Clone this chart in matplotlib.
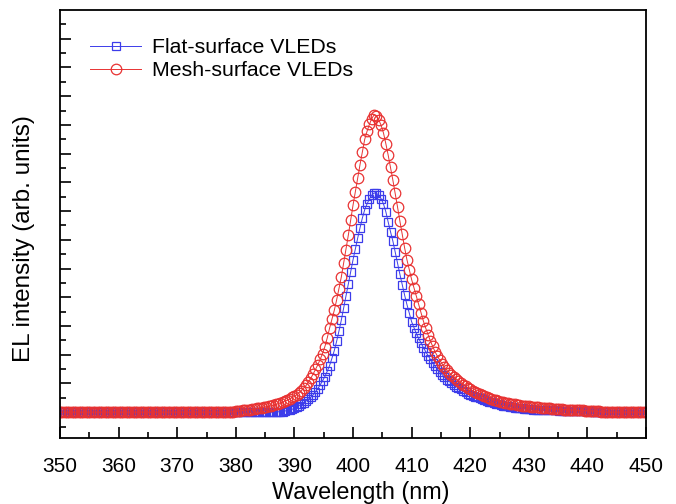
import numpy as np
import matplotlib
matplotlib.use('Agg')
from matplotlib import pyplot as plt

plt.rcParams['font.family'] = ['Liberation Sans', 'DejaVu Sans']

# wavelength grid of the spectrometer, 0.4 nm steps
wavelength = np.linspace(350, 450, 251)

# EL intensity (arb. units)
flat_el = [
    # 350.0 - 378.0 nm
    0.00, 0.00, 0.00, 0.00, 0.00, 0.00, 0.00, 0.00, 0.00, 0.00,
    0.00, 0.00, 0.00, 0.00, 0.00, 0.00, 0.00, 0.00, 0.00, 0.00,
    0.00, 0.00, 0.00, 0.00, 0.00, 0.00, 0.00, 0.00, 0.00, 0.00,
    0.00, 0.00, 0.00, 0.00, 0.00, 0.00, 0.00, 0.00, 0.00, 0.00,
    0.00, 0.00, 0.00, 0.00, 0.00, 0.00, 0.00, 0.00, 0.00, 0.00,
    0.00, 0.00, 0.00, 0.00, 0.00, 0.00, 0.00, 0.00, 0.00, 0.00,
    0.00, 0.00, 0.00, 0.00, 0.00, 0.00, 0.00, 0.00, 0.00, 0.00, 0.00,
    # 378.4 - 442.0 nm
    0.00, 0.00, 0.00, 0.00, 0.00, 0.00, 0.00, 0.00, 0.00, 0.00,
    0.00, 0.00, 0.00, 0.00, 0.00, 0.00, 0.00, 0.00, 0.00, 0.00,
    0.00, 0.01, 0.01, 0.02, 0.02, 0.04, 0.06, 0.08, 0.10, 0.13,
    0.18, 0.23, 0.28, 0.33, 0.39, 0.45, 0.52, 0.60, 0.71, 0.82,
    0.95, 1.09, 1.24, 1.42, 1.62, 1.87, 2.14, 2.46, 2.82, 3.20,
    3.62, 4.04, 4.46, 4.88, 5.30, 5.68, 6.06, 6.42, 6.76, 7.05,
    7.25, 7.42, 7.55, 7.63, 7.62, 7.55, 7.43, 7.25, 6.98, 6.62,
    6.28, 5.96, 5.57, 5.19, 4.80, 4.44, 4.08, 3.75, 3.45, 3.15,
    2.94, 2.74, 2.57, 2.41, 2.25, 2.11, 1.97, 1.84, 1.72, 1.60,
    1.50, 1.40, 1.31, 1.22, 1.13, 1.07, 1.00, 0.94, 0.89, 0.84,
    0.79, 0.74, 0.69, 0.64, 0.60, 0.57, 0.54, 0.51, 0.48, 0.45,
    0.42, 0.39, 0.37, 0.34, 0.32, 0.30, 0.27, 0.25, 0.23, 0.21,
    0.20, 0.19, 0.17, 0.16, 0.15, 0.14, 0.13, 0.12, 0.11, 0.10,
    0.10, 0.09, 0.09, 0.08, 0.08, 0.08, 0.07, 0.07, 0.06, 0.06,
    0.06, 0.06, 0.05, 0.05, 0.05, 0.05, 0.04, 0.04, 0.04, 0.04,
    0.04, 0.03, 0.03, 0.03, 0.03, 0.03, 0.02, 0.02, 0.02, 0.02,
    # 442.4 - 450.0 nm
    0.00, 0.00, 0.00, 0.00, 0.00, 0.00, 0.00, 0.00, 0.00, 0.00,
    0.00, 0.00, 0.00, 0.00, 0.00, 0.00, 0.00, 0.00, 0.00, 0.00,
]

mesh_el = [
    # 350.0 - 378.0 nm
    0.00, 0.00, 0.00, 0.00, 0.00, 0.00, 0.00, 0.00, 0.00, 0.00,
    0.00, 0.00, 0.00, 0.00, 0.00, 0.00, 0.00, 0.00, 0.00, 0.00,
    0.00, 0.00, 0.00, 0.00, 0.00, 0.00, 0.00, 0.00, 0.00, 0.00,
    0.00, 0.00, 0.00, 0.00, 0.00, 0.00, 0.00, 0.00, 0.00, 0.00,
    0.00, 0.00, 0.00, 0.00, 0.00, 0.00, 0.00, 0.00, 0.00, 0.00,
    0.00, 0.00, 0.00, 0.00, 0.00, 0.00, 0.00, 0.00, 0.00, 0.00,
    0.00, 0.00, 0.00, 0.00, 0.00, 0.00, 0.00, 0.00, 0.00, 0.00, 0.00,
    # 378.4 - 442.0 nm
    0.00, 0.01, 0.01, 0.02, 0.03, 0.04, 0.05, 0.06, 0.07, 0.08,
    0.09, 0.10, 0.12, 0.13, 0.14, 0.16, 0.17, 0.19, 0.20, 0.22,
    0.24, 0.27, 0.29, 0.32, 0.35, 0.39, 0.42, 0.46, 0.51, 0.55,
    0.61, 0.68, 0.75, 0.84, 0.93, 1.05, 1.18, 1.33, 1.49, 1.65,
    1.84, 2.04, 2.28, 2.58, 2.92, 3.23, 3.54, 3.90, 4.30, 4.70,
    5.18, 5.66, 6.16, 6.68, 7.20, 7.68, 8.16, 8.62, 9.06, 9.50,
    9.78, 10.02, 10.22, 10.35, 10.30, 10.18, 9.98, 9.72, 9.35, 8.95,
    8.52, 8.08, 7.62, 7.14, 6.65, 6.19, 5.73, 5.31, 4.96, 4.62,
    4.33, 4.04, 3.75, 3.46, 3.18, 2.93, 2.70, 2.48, 2.29, 2.10,
    1.95, 1.81, 1.68, 1.57, 1.46, 1.38, 1.29, 1.22, 1.15, 1.08,
    1.02, 0.96, 0.90, 0.85, 0.80, 0.75, 0.70, 0.66, 0.62, 0.58,
    0.55, 0.52, 0.49, 0.46, 0.43, 0.41, 0.39, 0.37, 0.35, 0.33,
    0.31, 0.30, 0.28, 0.27, 0.25, 0.24, 0.23, 0.22, 0.21, 0.20,
    0.19, 0.18, 0.18, 0.17, 0.16, 0.15, 0.14, 0.14, 0.13, 0.12,
    0.11, 0.11, 0.10, 0.10, 0.09, 0.09, 0.08, 0.08, 0.07, 0.07,
    0.06, 0.06, 0.06, 0.05, 0.05, 0.05, 0.04, 0.04, 0.03, 0.03,
    # 442.4 - 450.0 nm
    0.00, 0.00, 0.00, 0.00, 0.00, 0.00, 0.00, 0.00, 0.00, 0.00,
    0.00, 0.00, 0.00, 0.00, 0.00, 0.00, 0.00, 0.00, 0.00, 0.00,
]

x_ticks = [350, 360, 370, 380, 390, 400, 410, 420, 430, 440, 450]

blue = '#3c3cea'
red = '#e83232'

fig = plt.figure(figsize=(6.76, 5.04), dpi=100)
ax = fig.add_axes([60 / 676, 66 / 504, 586 / 676, 428 / 504])

ax.plot(wavelength, flat_el, color=blue, lw=0.7, marker='s', ms=6.4,
        mfc='none', mec=blue, mew=0.9, label='Flat-surface VLEDs')
ax.plot(wavelength, mesh_el, color=red, lw=0.7, marker='o', ms=7.6,
        mfc='none', mec=red, mew=0.9, label='Mesh-surface VLEDs')

ax.set_xlim(350, 450)
ax.set_ylim(-0.9, 14.0)
ax.set_xticks(x_ticks)
ax.set_xticks(np.arange(355, 450, 10), minor=True)
ax.set_yticks(np.arange(0, 14.0, 1.0))
ax.set_yticks(np.arange(-0.5, 14.0, 1.0), minor=True)
ax.set_yticklabels([])

ax.tick_params(which='both', direction='in', top=False, right=False,
               width=1.2, labelsize=15)
ax.tick_params(which='major', length=8)
ax.tick_params(which='minor', length=4.5)
ax.tick_params(axis='x', pad=14)
for s in ax.spines.values():
    s.set_linewidth(1.3)

ax.set_xlabel('Wavelength (nm)', fontsize=16.8)
ax.set_ylabel('EL intensity (arb. units)', fontsize=17.5)
ax.xaxis.set_label_coords(0.514, -0.1)
ax.yaxis.set_label_coords(-0.043, 0.467)

ax.legend(loc='upper left', bbox_to_anchor=(0.03, 0.964), frameon=False,
          fontsize=15.3, handlelength=2.4, handletextpad=0.5,
          labelspacing=0.2, borderaxespad=0.2)

fig.savefig('out.png', dpi=100)
